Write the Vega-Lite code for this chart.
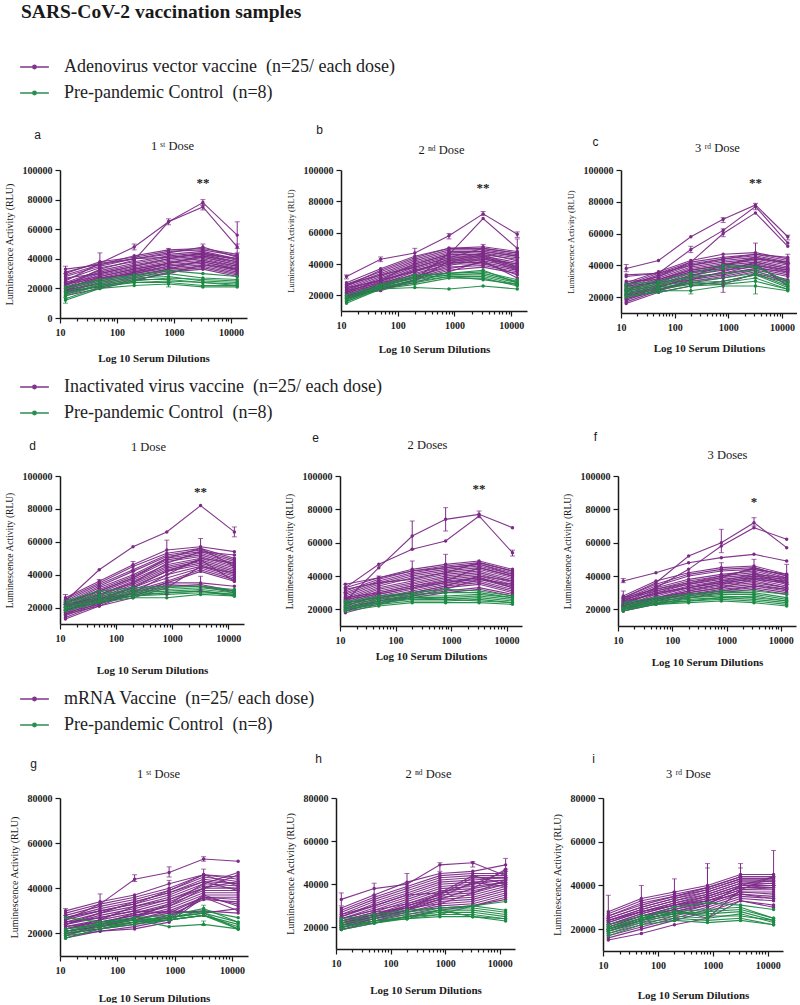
{
"$schema":"https://vega.github.io/schema/vega-lite/v6.json",
"padding":{"left":3,"top":2,"right":0,"bottom":0},
"title":{"text":"SARS-CoV-2 vaccination samples","anchor":"start","font":"Liberation Serif","fontSize":19.5,"fontWeight":"bold","color":"#1a1a1a","dx":17,"offset":31},
"datasets":{
"dil":[{"k":"v1","x":12.5},{"k":"v2","x":50},{"k":"v3","x":200},{"k":"v4","x":800},{"k":"v5","x":3200},{"k":"v6","x":12800}],
"stars":[{"p":"a","x":3200,"y":91000,"t":"**"},{"p":"b","x":3200,"y":88500,"t":"**"},{"p":"c","x":3200,"y":92000,"t":"**"},{"p":"d","x":3200,"y":90000,"t":"**"},{"p":"e","x":3200,"y":92000,"t":"**"},{"p":"f","x":3200,"y":84500,"t":"*"},{"p":"g","x":3200,"y":20000,"t":""},{"p":"h","x":3200,"y":20000,"t":""},{"p":"i","x":3200,"y":20000,"t":""}],
"err":[
{"p":"a","g":"V","x":3200,"lo":76000,"hi":80000},{"p":"a","g":"V","x":3200,"lo":73000,"hi":77000},{"p":"a","g":"V","x":12800,"lo":47000,"hi":65000},{"p":"a","g":"V","x":12800,"lo":44000,"hi":50000},{"p":"a","g":"V","x":50,"lo":34000,"hi":44000},{"p":"a","g":"V","x":12.5,"lo":30000,"hi":35000},{"p":"a","g":"V","x":200,"lo":46000,"hi":50000},{"p":"a","g":"V","x":800,"lo":63000,"hi":67000},{"p":"a","g":"V","x":800,"lo":43000,"hi":47000},{"p":"a","g":"V","x":3200,"lo":46000,"hi":50000},{"p":"a","g":"C","x":12.5,"lo":10000,"hi":14000},{"p":"a","g":"C","x":800,"lo":21000,"hi":24000},
{"p":"b","g":"V","x":3200,"lo":71000,"hi":73500},{"p":"b","g":"V","x":12800,"lo":57000,"hi":60500},{"p":"b","g":"V","x":12800,"lo":44000,"hi":56000},{"p":"b","g":"V","x":800,"lo":56000,"hi":59500},{"p":"b","g":"V","x":50,"lo":41500,"hi":44500},{"p":"b","g":"V","x":200,"lo":43000,"hi":50000},{"p":"b","g":"V","x":12.5,"lo":30500,"hi":33000},{"p":"b","g":"V","x":800,"lo":36000,"hi":39000},{"p":"b","g":"V","x":3200,"lo":50000,"hi":52500},
{"p":"c","g":"V","x":12.5,"lo":36000,"hi":40500},{"p":"c","g":"V","x":3200,"lo":75000,"hi":79000},{"p":"c","g":"V","x":12800,"lo":56000,"hi":59000},{"p":"c","g":"V","x":800,"lo":67000,"hi":70000},{"p":"c","g":"V","x":800,"lo":58000,"hi":63000},{"p":"c","g":"V","x":200,"lo":48000,"hi":52000},{"p":"c","g":"V","x":3200,"lo":40000,"hi":54000},{"p":"c","g":"V","x":800,"lo":23000,"hi":34000},{"p":"c","g":"C","x":3200,"lo":22000,"hi":32000},{"p":"c","g":"C","x":200,"lo":22000,"hi":28000},{"p":"c","g":"V","x":12800,"lo":41000,"hi":47000},
{"p":"d","g":"V","x":12800,"lo":63000,"hi":69000},{"p":"d","g":"V","x":800,"lo":45000,"hi":61000},{"p":"d","g":"V","x":3200,"lo":50000,"hi":62000},{"p":"d","g":"V","x":200,"lo":42000,"hi":48000},{"p":"d","g":"V","x":50,"lo":33000,"hi":37000},{"p":"d","g":"V","x":3200,"lo":30000,"hi":39000},{"p":"d","g":"V","x":12.5,"lo":22000,"hi":28000},{"p":"d","g":"V","x":800,"lo":28000,"hi":37000},
{"p":"e","g":"V","x":200,"lo":56000,"hi":73000},{"p":"e","g":"V","x":800,"lo":67000,"hi":81000},{"p":"e","g":"V","x":3200,"lo":75000,"hi":79000},{"p":"e","g":"V","x":200,"lo":40000,"hi":49000},{"p":"e","g":"V","x":800,"lo":40000,"hi":53000},{"p":"e","g":"V","x":12800,"lo":52000,"hi":55500},{"p":"e","g":"V","x":12.5,"lo":30000,"hi":35000},{"p":"e","g":"V","x":50,"lo":37000,"hi":40000},
{"p":"f","g":"V","x":800,"lo":54000,"hi":68000},{"p":"f","g":"V","x":3200,"lo":70000,"hi":75000},{"p":"f","g":"V","x":3200,"lo":42000,"hi":50000},{"p":"f","g":"V","x":12.5,"lo":36000,"hi":38500},{"p":"f","g":"V","x":12800,"lo":35000,"hi":47000},{"p":"f","g":"V","x":12.5,"lo":22000,"hi":31000},{"p":"f","g":"V","x":800,"lo":40000,"hi":48000},
{"p":"g","g":"V","x":3200,"lo":52000,"hi":54000},{"p":"g","g":"V","x":800,"lo":45000,"hi":49500},{"p":"g","g":"V","x":200,"lo":43000,"hi":46000},{"p":"g","g":"V","x":50,"lo":32000,"hi":37500},{"p":"g","g":"V","x":3200,"lo":44000,"hi":48500},{"p":"g","g":"V","x":800,"lo":37000,"hi":43500},{"p":"g","g":"V","x":12.5,"lo":28000,"hi":31000},{"p":"g","g":"C","x":3200,"lo":29500,"hi":32500},{"p":"g","g":"C","x":3200,"lo":23500,"hi":25500},
{"p":"h","g":"V","x":12.5,"lo":30000,"hi":36000},{"p":"h","g":"V","x":50,"lo":35000,"hi":40500},{"p":"h","g":"V","x":200,"lo":38000,"hi":45000},{"p":"h","g":"V","x":800,"lo":46000,"hi":50000},{"p":"h","g":"V","x":12800,"lo":46000,"hi":52000},{"p":"h","g":"V","x":3200,"lo":48000,"hi":50500},{"p":"h","g":"V","x":12800,"lo":43000,"hi":47000},
{"p":"i","g":"V","x":12.5,"lo":25000,"hi":35500},{"p":"i","g":"V","x":50,"lo":33000,"hi":40000},{"p":"i","g":"V","x":200,"lo":37000,"hi":43000},{"p":"i","g":"V","x":800,"lo":37000,"hi":50000},{"p":"i","g":"V","x":3200,"lo":44000,"hi":50000},{"p":"i","g":"V","x":12800,"lo":40000,"hi":56000},{"p":"i","g":"V","x":800,"lo":33000,"hi":48000},{"p":"i","g":"V","x":3200,"lo":39000,"hi":48000}
],
"lines":[
{"p":"a","g":"V","s":1,"v1":25000,"v2":37000,"v3":48000,"v4":65000,"v5":78000,"v6":56000},
{"p":"a","g":"V","s":2,"v1":22000,"v2":33000,"v3":39000,"v4":65000,"v5":75000,"v6":48000},
{"p":"a","g":"V","s":3,"v1":33000,"v2":36000,"v3":40000,"v4":44000,"v5":48000,"v6":41000},
{"p":"a","g":"V","s":4,"v1":30000,"v2":38000,"v3":41000,"v4":45000,"v5":46000,"v6":42000},
{"p":"a","g":"V","s":5,"v1":28000,"v2":35000,"v3":40000,"v4":43000,"v5":45000,"v6":40000},
{"p":"a","g":"V","s":6,"v1":26000,"v2":34000,"v3":38000,"v4":42000,"v5":44000,"v6":39000},
{"p":"a","g":"V","s":7,"v1":24000,"v2":32000,"v3":37000,"v4":41000,"v5":43000,"v6":38000},
{"p":"a","g":"V","s":8,"v1":23000,"v2":31000,"v3":36000,"v4":40000,"v5":42000,"v6":37000},
{"p":"a","g":"V","s":9,"v1":22000,"v2":30000,"v3":35000,"v4":39000,"v5":41000,"v6":36000},
{"p":"a","g":"V","s":10,"v1":21000,"v2":29000,"v3":34000,"v4":38000,"v5":40000,"v6":35000},
{"p":"a","g":"V","s":11,"v1":20000,"v2":28000,"v3":33000,"v4":37000,"v5":39000,"v6":34000},
{"p":"a","g":"V","s":12,"v1":20000,"v2":27000,"v3":32000,"v4":36000,"v5":38000,"v6":33000},
{"p":"a","g":"V","s":13,"v1":19000,"v2":26000,"v3":31000,"v4":35000,"v5":37000,"v6":32000},
{"p":"a","g":"V","s":14,"v1":18000,"v2":25000,"v3":30000,"v4":34000,"v5":36000,"v6":31000},
{"p":"a","g":"V","s":15,"v1":17000,"v2":24000,"v3":29000,"v4":33000,"v5":35000,"v6":30000},
{"p":"a","g":"V","s":16,"v1":16000,"v2":22000,"v3":27000,"v4":32000,"v5":34000,"v6":29000},
{"p":"a","g":"V","s":17,"v1":15000,"v2":20000,"v3":25000,"v4":31000,"v5":33000,"v6":28000},
{"p":"a","g":"V","s":18,"v1":29000,"v2":36000,"v3":42000,"v4":46000,"v5":47000,"v6":43000},
{"p":"a","g":"V","s":19,"v1":27000,"v2":30000,"v3":35000,"v4":40000,"v5":44000,"v6":40000},
{"p":"a","g":"V","s":20,"v1":24000,"v2":28000,"v3":33000,"v4":37000,"v5":41000,"v6":36000},
{"p":"a","g":"V","s":21,"v1":21000,"v2":26000,"v3":31000,"v4":37000,"v5":42000,"v6":38000},
{"p":"a","g":"V","s":22,"v1":19000,"v2":23000,"v3":28000,"v4":33000,"v5":39000,"v6":35000},
{"p":"a","g":"V","s":23,"v1":18000,"v2":21000,"v3":26000,"v4":30000,"v5":36000,"v6":33000},
{"p":"a","g":"V","s":24,"v1":31000,"v2":37000,"v3":40000,"v4":41000,"v5":43000,"v6":40000},
{"p":"a","g":"V","s":25,"v1":23000,"v2":27000,"v3":30000,"v4":35000,"v5":38000,"v6":33000},
{"p":"a","g":"C","s":1,"v1":12000,"v2":20000,"v3":22000,"v4":23000,"v5":21000,"v6":21000},
{"p":"a","g":"C","s":2,"v1":13000,"v2":21000,"v3":24000,"v4":24000,"v5":22000,"v6":22000},
{"p":"a","g":"C","s":3,"v1":16000,"v2":23000,"v3":26000,"v4":26000,"v5":24000,"v6":23000},
{"p":"a","g":"C","s":4,"v1":18000,"v2":24000,"v3":27000,"v4":28000,"v5":25000,"v6":24000},
{"p":"a","g":"C","s":5,"v1":20000,"v2":25000,"v3":28000,"v4":30000,"v5":27000,"v6":26000},
{"p":"a","g":"C","s":6,"v1":21000,"v2":26000,"v3":29000,"v4":32000,"v5":30000,"v6":28000},
{"p":"a","g":"C","s":7,"v1":17000,"v2":22000,"v3":25000,"v4":27000,"v5":26000,"v6":25000},
{"p":"a","g":"C","s":8,"v1":15000,"v2":22000,"v3":24000,"v4":25000,"v5":24000,"v6":22000},
{"p":"b","g":"V","s":1,"v1":32000,"v2":43000,"v3":47000,"v4":58000,"v5":72000,"v6":59000},
{"p":"b","g":"V","s":2,"v1":22000,"v2":30000,"v3":40000,"v4":46000,"v5":69000,"v6":50000},
{"p":"b","g":"V","s":3,"v1":28000,"v2":37000,"v3":45000,"v4":50000,"v5":50000,"v6":47000},
{"p":"b","g":"V","s":4,"v1":27000,"v2":35000,"v3":43000,"v4":49000,"v5":49000,"v6":46000},
{"p":"b","g":"V","s":5,"v1":26000,"v2":34000,"v3":42000,"v4":48000,"v5":48000,"v6":45000},
{"p":"b","g":"V","s":6,"v1":25000,"v2":33000,"v3":41000,"v4":47000,"v5":47000,"v6":44000},
{"p":"b","g":"V","s":7,"v1":24000,"v2":32000,"v3":40000,"v4":46000,"v5":46000,"v6":43000},
{"p":"b","g":"V","s":8,"v1":23000,"v2":31000,"v3":39000,"v4":45000,"v5":45000,"v6":41000},
{"p":"b","g":"V","s":9,"v1":22000,"v2":30000,"v3":38000,"v4":44000,"v5":44000,"v6":40000},
{"p":"b","g":"V","s":10,"v1":21000,"v2":29000,"v3":37000,"v4":43000,"v5":43000,"v6":39000},
{"p":"b","g":"V","s":11,"v1":20000,"v2":28000,"v3":36000,"v4":42000,"v5":42000,"v6":38000},
{"p":"b","g":"V","s":12,"v1":19000,"v2":27000,"v3":35000,"v4":41000,"v5":41000,"v6":37000},
{"p":"b","g":"V","s":13,"v1":19000,"v2":26000,"v3":34000,"v4":40000,"v5":40000,"v6":36000},
{"p":"b","g":"V","s":14,"v1":18000,"v2":25000,"v3":32000,"v4":38000,"v5":39000,"v6":35000},
{"p":"b","g":"V","s":15,"v1":18000,"v2":24000,"v3":30000,"v4":36000,"v5":38000,"v6":34000},
{"p":"b","g":"V","s":16,"v1":21000,"v2":26000,"v3":31000,"v4":37000,"v5":41000,"v6":33000},
{"p":"b","g":"V","s":17,"v1":23000,"v2":28000,"v3":33000,"v4":40000,"v5":44000,"v6":36000},
{"p":"b","g":"V","s":18,"v1":20000,"v2":25000,"v3":29000,"v4":42000,"v5":46000,"v6":38000},
{"p":"b","g":"V","s":19,"v1":26000,"v2":36000,"v3":44000,"v4":50000,"v5":51000,"v6":48000},
{"p":"b","g":"V","s":20,"v1":24000,"v2":30000,"v3":35000,"v4":43000,"v5":47000,"v6":42000},
{"p":"b","g":"V","s":21,"v1":22000,"v2":27000,"v3":32000,"v4":39000,"v5":43000,"v6":40000},
{"p":"b","g":"V","s":22,"v1":19000,"v2":24000,"v3":28000,"v4":35000,"v5":42000,"v6":31000},
{"p":"b","g":"V","s":23,"v1":20000,"v2":23000,"v3":30000,"v4":47000,"v5":48000,"v6":45000},
{"p":"b","g":"V","s":24,"v1":27000,"v2":33000,"v3":38000,"v4":44000,"v5":50000,"v6":47000},
{"p":"b","g":"V","s":25,"v1":25000,"v2":29000,"v3":36000,"v4":41000,"v5":45000,"v6":37000},
{"p":"b","g":"C","s":1,"v1":15000,"v2":24000,"v3":25000,"v4":24000,"v5":26000,"v6":24000},
{"p":"b","g":"C","s":2,"v1":16000,"v2":25000,"v3":28000,"v4":32000,"v5":30000,"v6":27000},
{"p":"b","g":"C","s":3,"v1":17000,"v2":25000,"v3":30000,"v4":33000,"v5":33000,"v6":28000},
{"p":"b","g":"C","s":4,"v1":18000,"v2":26000,"v3":31000,"v4":33000,"v5":34000,"v6":29000},
{"p":"b","g":"C","s":5,"v1":19000,"v2":26000,"v3":32000,"v4":34000,"v5":35000,"v6":30000},
{"p":"b","g":"C","s":6,"v1":20000,"v2":27000,"v3":33000,"v4":34000,"v5":36000,"v6":28000},
{"p":"b","g":"C","s":7,"v1":17000,"v2":25000,"v3":29000,"v4":32000,"v5":32000,"v6":27000},
{"p":"b","g":"C","s":8,"v1":16000,"v2":24000,"v3":27000,"v4":31000,"v5":31000,"v6":26000},
{"p":"c","g":"V","s":1,"v1":38000,"v2":43000,"v3":58000,"v4":69000,"v5":78000,"v6":58000},
{"p":"c","g":"V","s":2,"v1":34000,"v2":35000,"v3":50000,"v4":62000,"v5":77000,"v6":54000},
{"p":"c","g":"V","s":3,"v1":28000,"v2":33000,"v3":42000,"v4":60000,"v5":73000,"v6":52000},
{"p":"c","g":"V","s":4,"v1":29000,"v2":36000,"v3":43000,"v4":47000,"v5":48000,"v6":44000},
{"p":"c","g":"V","s":5,"v1":28000,"v2":35000,"v3":42000,"v4":45000,"v5":47000,"v6":43000},
{"p":"c","g":"V","s":6,"v1":27000,"v2":34000,"v3":41000,"v4":44000,"v5":46000,"v6":42000},
{"p":"c","g":"V","s":7,"v1":26000,"v2":33000,"v3":40000,"v4":43000,"v5":45000,"v6":41000},
{"p":"c","g":"V","s":8,"v1":25000,"v2":32000,"v3":39000,"v4":42000,"v5":44000,"v6":40000},
{"p":"c","g":"V","s":9,"v1":24000,"v2":31000,"v3":38000,"v4":41000,"v5":43000,"v6":39000},
{"p":"c","g":"V","s":10,"v1":23000,"v2":30000,"v3":37000,"v4":40000,"v5":42000,"v6":38000},
{"p":"c","g":"V","s":11,"v1":22000,"v2":29000,"v3":36000,"v4":39000,"v5":41000,"v6":37000},
{"p":"c","g":"V","s":12,"v1":21000,"v2":28000,"v3":35000,"v4":38000,"v5":40000,"v6":36000},
{"p":"c","g":"V","s":13,"v1":20000,"v2":27000,"v3":34000,"v4":37000,"v5":39000,"v6":35000},
{"p":"c","g":"V","s":14,"v1":19000,"v2":26000,"v3":32000,"v4":35000,"v5":38000,"v6":34000},
{"p":"c","g":"V","s":15,"v1":18000,"v2":25000,"v3":30000,"v4":33000,"v5":37000,"v6":33000},
{"p":"c","g":"V","s":16,"v1":17000,"v2":24000,"v3":29000,"v4":32000,"v5":36000,"v6":31000},
{"p":"c","g":"V","s":17,"v1":16000,"v2":23000,"v3":27000,"v4":30000,"v5":34000,"v6":29000},
{"p":"c","g":"V","s":18,"v1":33000,"v2":35000,"v3":40000,"v4":44000,"v5":47000,"v6":45000},
{"p":"c","g":"V","s":19,"v1":30000,"v2":31000,"v3":37000,"v4":40000,"v5":44000,"v6":42000},
{"p":"c","g":"V","s":20,"v1":27000,"v2":29000,"v3":33000,"v4":35000,"v5":40000,"v6":37000},
{"p":"c","g":"V","s":21,"v1":24000,"v2":27000,"v3":31000,"v4":34000,"v5":38000,"v6":36000},
{"p":"c","g":"V","s":22,"v1":21000,"v2":25000,"v3":29000,"v4":28000,"v5":35000,"v6":30000},
{"p":"c","g":"V","s":23,"v1":19000,"v2":24000,"v3":31000,"v4":36000,"v5":42000,"v6":38000},
{"p":"c","g":"V","s":24,"v1":22000,"v2":26000,"v3":33000,"v4":40000,"v5":45000,"v6":41000},
{"p":"c","g":"V","s":25,"v1":25000,"v2":30000,"v3":36000,"v4":38000,"v5":41000,"v6":27000},
{"p":"c","g":"C","s":1,"v1":20000,"v2":24000,"v3":24000,"v4":27000,"v5":27000,"v6":24000},
{"p":"c","g":"C","s":2,"v1":22000,"v2":25000,"v3":28000,"v4":29000,"v5":32000,"v6":25000},
{"p":"c","g":"C","s":3,"v1":23000,"v2":26000,"v3":29000,"v4":30000,"v5":34000,"v6":26000},
{"p":"c","g":"C","s":4,"v1":24000,"v2":27000,"v3":30000,"v4":32000,"v5":35000,"v6":27000},
{"p":"c","g":"C","s":5,"v1":25000,"v2":28000,"v3":32000,"v4":35000,"v5":37000,"v6":28000},
{"p":"c","g":"C","s":6,"v1":26000,"v2":29000,"v3":33000,"v4":38000,"v5":40000,"v6":29000},
{"p":"c","g":"C","s":7,"v1":28000,"v2":30000,"v3":35000,"v4":40000,"v5":39000,"v6":30000},
{"p":"c","g":"C","s":8,"v1":21000,"v2":23000,"v3":27000,"v4":28000,"v5":30000,"v6":25000},
{"p":"d","g":"V","s":1,"v1":24000,"v2":43000,"v3":57000,"v4":66000,"v5":82000,"v6":66000},
{"p":"d","g":"V","s":2,"v1":26000,"v2":36000,"v3":46000,"v4":55000,"v5":57000,"v6":54000},
{"p":"d","g":"V","s":3,"v1":25000,"v2":35000,"v3":45000,"v4":53000,"v5":56000,"v6":50000},
{"p":"d","g":"V","s":4,"v1":24000,"v2":34000,"v3":43000,"v4":52000,"v5":55000,"v6":49000},
{"p":"d","g":"V","s":5,"v1":23000,"v2":33000,"v3":42000,"v4":51000,"v5":54000,"v6":48000},
{"p":"d","g":"V","s":6,"v1":22000,"v2":32000,"v3":40000,"v4":50000,"v5":53000,"v6":47000},
{"p":"d","g":"V","s":7,"v1":21000,"v2":31000,"v3":39000,"v4":49000,"v5":52000,"v6":46000},
{"p":"d","g":"V","s":8,"v1":20000,"v2":30000,"v3":38000,"v4":48000,"v5":51000,"v6":45000},
{"p":"d","g":"V","s":9,"v1":20000,"v2":29000,"v3":37000,"v4":46000,"v5":50000,"v6":44000},
{"p":"d","g":"V","s":10,"v1":19000,"v2":28000,"v3":36000,"v4":45000,"v5":49000,"v6":43000},
{"p":"d","g":"V","s":11,"v1":18000,"v2":27000,"v3":35000,"v4":44000,"v5":48000,"v6":42000},
{"p":"d","g":"V","s":12,"v1":18000,"v2":26000,"v3":34000,"v4":43000,"v5":47000,"v6":41000},
{"p":"d","g":"V","s":13,"v1":17000,"v2":25000,"v3":33000,"v4":42000,"v5":46000,"v6":40000},
{"p":"d","g":"V","s":14,"v1":16000,"v2":24000,"v3":32000,"v4":40000,"v5":45000,"v6":39000},
{"p":"d","g":"V","s":15,"v1":15000,"v2":23000,"v3":31000,"v4":38000,"v5":44000,"v6":38000},
{"p":"d","g":"V","s":16,"v1":14000,"v2":22000,"v3":30000,"v4":36000,"v5":43000,"v6":37000},
{"p":"d","g":"V","s":17,"v1":13000,"v2":21000,"v3":29000,"v4":35000,"v5":42000,"v6":36000},
{"p":"d","g":"V","s":18,"v1":22000,"v2":26000,"v3":28000,"v4":35000,"v5":35000,"v6":33000},
{"p":"d","g":"V","s":19,"v1":21000,"v2":25000,"v3":27000,"v4":33000,"v5":34000,"v6":30000},
{"p":"d","g":"V","s":20,"v1":19000,"v2":23000,"v3":27000,"v4":34000,"v5":33000,"v6":29000},
{"p":"d","g":"V","s":21,"v1":17000,"v2":22000,"v3":29000,"v4":40000,"v5":50000,"v6":47000},
{"p":"d","g":"V","s":22,"v1":20000,"v2":28000,"v3":35000,"v4":47000,"v5":54000,"v6":52000},
{"p":"d","g":"V","s":23,"v1":23000,"v2":30000,"v3":38000,"v4":50000,"v5":56000,"v6":45000},
{"p":"d","g":"V","s":24,"v1":16000,"v2":21000,"v3":26000,"v4":32000,"v5":45000,"v6":41000},
{"p":"d","g":"V","s":25,"v1":18000,"v2":25000,"v3":32000,"v4":42000,"v5":49000,"v6":36000},
{"p":"d","g":"C","s":1,"v1":18000,"v2":23000,"v3":26000,"v4":26000,"v5":28000,"v6":27000},
{"p":"d","g":"C","s":2,"v1":19000,"v2":24000,"v3":27000,"v4":28000,"v5":29000,"v6":28000},
{"p":"d","g":"C","s":3,"v1":20000,"v2":25000,"v3":28000,"v4":29000,"v5":30000,"v6":28000},
{"p":"d","g":"C","s":4,"v1":21000,"v2":26000,"v3":29000,"v4":30000,"v5":31000,"v6":29000},
{"p":"d","g":"C","s":5,"v1":22000,"v2":27000,"v3":30000,"v4":31000,"v5":32000,"v6":30000},
{"p":"d","g":"C","s":6,"v1":23000,"v2":28000,"v3":31000,"v4":32000,"v5":33000,"v6":31000},
{"p":"d","g":"C","s":7,"v1":24000,"v2":30000,"v3":32000,"v4":33000,"v5":33000,"v6":30000},
{"p":"d","g":"C","s":8,"v1":20000,"v2":24000,"v3":27000,"v4":29000,"v5":30000,"v6":27000},
{"p":"e","g":"V","s":1,"v1":25000,"v2":45000,"v3":64000,"v4":74000,"v5":77000,"v6":69000},
{"p":"e","g":"V","s":2,"v1":33000,"v2":47000,"v3":56000,"v4":61000,"v5":76000,"v6":54000},
{"p":"e","g":"V","s":3,"v1":33000,"v2":39000,"v3":44000,"v4":47000,"v5":49000,"v6":44000},
{"p":"e","g":"V","s":4,"v1":31000,"v2":38000,"v3":43000,"v4":46000,"v5":48000,"v6":43000},
{"p":"e","g":"V","s":5,"v1":30000,"v2":37000,"v3":42000,"v4":45000,"v5":47000,"v6":42000},
{"p":"e","g":"V","s":6,"v1":29000,"v2":36000,"v3":41000,"v4":44000,"v5":46000,"v6":41000},
{"p":"e","g":"V","s":7,"v1":28000,"v2":35000,"v3":40000,"v4":43000,"v5":45000,"v6":40000},
{"p":"e","g":"V","s":8,"v1":27000,"v2":34000,"v3":39000,"v4":42000,"v5":44000,"v6":39000},
{"p":"e","g":"V","s":9,"v1":26000,"v2":33000,"v3":37000,"v4":41000,"v5":43000,"v6":38000},
{"p":"e","g":"V","s":10,"v1":25000,"v2":32000,"v3":36000,"v4":40000,"v5":42000,"v6":37000},
{"p":"e","g":"V","s":11,"v1":24000,"v2":31000,"v3":35000,"v4":39000,"v5":41000,"v6":36000},
{"p":"e","g":"V","s":12,"v1":23000,"v2":30000,"v3":34000,"v4":38000,"v5":40000,"v6":35000},
{"p":"e","g":"V","s":13,"v1":22000,"v2":29000,"v3":33000,"v4":37000,"v5":39000,"v6":34000},
{"p":"e","g":"V","s":14,"v1":22000,"v2":28000,"v3":32000,"v4":36000,"v5":38000,"v6":33000},
{"p":"e","g":"V","s":15,"v1":21000,"v2":27000,"v3":31000,"v4":35000,"v5":37000,"v6":32000},
{"p":"e","g":"V","s":16,"v1":20000,"v2":26000,"v3":30000,"v4":34000,"v5":36000,"v6":31000},
{"p":"e","g":"V","s":17,"v1":19000,"v2":25000,"v3":29000,"v4":33000,"v5":35000,"v6":30000},
{"p":"e","g":"V","s":18,"v1":19000,"v2":24000,"v3":28000,"v4":31000,"v5":33000,"v6":29000},
{"p":"e","g":"V","s":19,"v1":18000,"v2":23000,"v3":27000,"v4":30000,"v5":32000,"v6":28000},
{"p":"e","g":"V","s":20,"v1":35000,"v2":39000,"v3":43000,"v4":45000,"v5":47000,"v6":41000},
{"p":"e","g":"V","s":21,"v1":32000,"v2":36000,"v3":38000,"v4":42000,"v5":48000,"v6":43000},
{"p":"e","g":"V","s":22,"v1":27000,"v2":30000,"v3":34000,"v4":37000,"v5":45000,"v6":40000},
{"p":"e","g":"V","s":23,"v1":24000,"v2":27000,"v3":30000,"v4":34000,"v5":40000,"v6":37000},
{"p":"e","g":"V","s":24,"v1":21000,"v2":25000,"v3":28000,"v4":32000,"v5":38000,"v6":35000},
{"p":"e","g":"V","s":25,"v1":26000,"v2":29000,"v3":33000,"v4":36000,"v5":39000,"v6":33000},
{"p":"e","g":"C","s":1,"v1":19000,"v2":22000,"v3":24000,"v4":24000,"v5":24000,"v6":23000},
{"p":"e","g":"C","s":2,"v1":20000,"v2":23000,"v3":25000,"v4":25000,"v5":26000,"v6":24000},
{"p":"e","g":"C","s":3,"v1":21000,"v2":24000,"v3":26000,"v4":26000,"v5":27000,"v6":25000},
{"p":"e","g":"C","s":4,"v1":22000,"v2":25000,"v3":27000,"v4":27000,"v5":28000,"v6":26000},
{"p":"e","g":"C","s":5,"v1":23000,"v2":26000,"v3":28000,"v4":28000,"v5":29000,"v6":27000},
{"p":"e","g":"C","s":6,"v1":24000,"v2":27000,"v3":29000,"v4":30000,"v5":30000,"v6":27000},
{"p":"e","g":"C","s":7,"v1":25000,"v2":28000,"v3":30000,"v4":32000,"v5":31000,"v6":28000},
{"p":"e","g":"C","s":8,"v1":20000,"v2":24000,"v3":27000,"v4":26000,"v5":25000,"v6":24000},
{"p":"f","g":"V","s":1,"v1":37000,"v2":42000,"v3":48000,"v4":51000,"v5":53000,"v6":49000},
{"p":"f","g":"V","s":2,"v1":27000,"v2":36000,"v3":52000,"v4":60000,"v5":72000,"v6":57000},
{"p":"f","g":"V","s":3,"v1":25000,"v2":33000,"v3":44000,"v4":58000,"v5":69000,"v6":62000},
{"p":"f","g":"V","s":4,"v1":28000,"v2":37000,"v3":42000,"v4":45000,"v5":46000,"v6":41000},
{"p":"f","g":"V","s":5,"v1":27000,"v2":35000,"v3":41000,"v4":44000,"v5":45000,"v6":40000},
{"p":"f","g":"V","s":6,"v1":26000,"v2":34000,"v3":40000,"v4":43000,"v5":44000,"v6":39000},
{"p":"f","g":"V","s":7,"v1":25000,"v2":33000,"v3":38000,"v4":41000,"v5":43000,"v6":38000},
{"p":"f","g":"V","s":8,"v1":24000,"v2":32000,"v3":37000,"v4":40000,"v5":42000,"v6":37000},
{"p":"f","g":"V","s":9,"v1":23000,"v2":31000,"v3":36000,"v4":39000,"v5":41000,"v6":36000},
{"p":"f","g":"V","s":10,"v1":23000,"v2":30000,"v3":35000,"v4":38000,"v5":40000,"v6":36000},
{"p":"f","g":"V","s":11,"v1":22000,"v2":29000,"v3":34000,"v4":37000,"v5":39000,"v6":35000},
{"p":"f","g":"V","s":12,"v1":22000,"v2":28000,"v3":33000,"v4":36000,"v5":38000,"v6":34000},
{"p":"f","g":"V","s":13,"v1":21000,"v2":27000,"v3":32000,"v4":35000,"v5":37000,"v6":33000},
{"p":"f","g":"V","s":14,"v1":21000,"v2":26000,"v3":31000,"v4":34000,"v5":36000,"v6":33000},
{"p":"f","g":"V","s":15,"v1":20000,"v2":25000,"v3":30000,"v4":33000,"v5":35000,"v6":32000},
{"p":"f","g":"V","s":16,"v1":20000,"v2":25000,"v3":29000,"v4":32000,"v5":34000,"v6":31000},
{"p":"f","g":"V","s":17,"v1":19000,"v2":24000,"v3":28000,"v4":31000,"v5":33000,"v6":30000},
{"p":"f","g":"V","s":18,"v1":19000,"v2":23000,"v3":27000,"v4":30000,"v5":32000,"v6":29000},
{"p":"f","g":"V","s":19,"v1":24000,"v2":30000,"v3":33000,"v4":36000,"v5":40000,"v6":38000},
{"p":"f","g":"V","s":20,"v1":22000,"v2":27000,"v3":30000,"v4":33000,"v5":38000,"v6":36000},
{"p":"f","g":"V","s":21,"v1":26000,"v2":31000,"v3":35000,"v4":39000,"v5":45000,"v6":40000},
{"p":"f","g":"V","s":22,"v1":21000,"v2":26000,"v3":29000,"v4":31000,"v5":34000,"v6":32000},
{"p":"f","g":"V","s":23,"v1":25000,"v2":29000,"v3":33000,"v4":37000,"v5":41000,"v6":39000},
{"p":"f","g":"V","s":24,"v1":23000,"v2":27000,"v3":31000,"v4":35000,"v5":39000,"v6":37000},
{"p":"f","g":"V","s":25,"v1":27000,"v2":32000,"v3":36000,"v4":40000,"v5":44000,"v6":41000},
{"p":"f","g":"C","s":1,"v1":19000,"v2":23000,"v3":24000,"v4":25000,"v5":24000,"v6":22000},
{"p":"f","g":"C","s":2,"v1":20000,"v2":24000,"v3":25000,"v4":26000,"v5":25000,"v6":23000},
{"p":"f","g":"C","s":3,"v1":21000,"v2":24000,"v3":26000,"v4":27000,"v5":26000,"v6":24000},
{"p":"f","g":"C","s":4,"v1":21000,"v2":25000,"v3":27000,"v4":28000,"v5":27000,"v6":25000},
{"p":"f","g":"C","s":5,"v1":22000,"v2":25000,"v3":27000,"v4":29000,"v5":29000,"v6":26000},
{"p":"f","g":"C","s":6,"v1":23000,"v2":26000,"v3":28000,"v4":30000,"v5":30000,"v6":27000},
{"p":"f","g":"C","s":7,"v1":24000,"v2":27000,"v3":29000,"v4":31000,"v5":31000,"v6":29000},
{"p":"f","g":"C","s":8,"v1":20000,"v2":23000,"v3":25000,"v4":27000,"v5":28000,"v6":25000},
{"p":"g","g":"V","s":1,"v1":26000,"v2":33000,"v3":44000,"v4":47000,"v5":53000,"v6":52000},
{"p":"g","g":"V","s":2,"v1":30000,"v2":34000,"v3":37000,"v4":42000,"v5":46000,"v6":45000},
{"p":"g","g":"V","s":3,"v1":29000,"v2":33000,"v3":36000,"v4":40000,"v5":46000,"v6":44000},
{"p":"g","g":"V","s":4,"v1":28000,"v2":32000,"v3":35000,"v4":39000,"v5":45000,"v6":43000},
{"p":"g","g":"V","s":5,"v1":27000,"v2":31000,"v3":34000,"v4":38000,"v5":44000,"v6":42000},
{"p":"g","g":"V","s":6,"v1":26000,"v2":30000,"v3":33000,"v4":37000,"v5":43000,"v6":42000},
{"p":"g","g":"V","s":7,"v1":25000,"v2":29000,"v3":32000,"v4":36000,"v5":42000,"v6":41000},
{"p":"g","g":"V","s":8,"v1":24000,"v2":28000,"v3":31000,"v4":35000,"v5":41000,"v6":40000},
{"p":"g","g":"V","s":9,"v1":24000,"v2":27000,"v3":30000,"v4":34000,"v5":40000,"v6":40000},
{"p":"g","g":"V","s":10,"v1":23000,"v2":26000,"v3":29000,"v4":33000,"v5":39000,"v6":39000},
{"p":"g","g":"V","s":11,"v1":22000,"v2":25000,"v3":28000,"v4":32000,"v5":38000,"v6":38000},
{"p":"g","g":"V","s":12,"v1":22000,"v2":24000,"v3":27000,"v4":31000,"v5":37000,"v6":37000},
{"p":"g","g":"V","s":13,"v1":21000,"v2":24000,"v3":26000,"v4":30000,"v5":36000,"v6":36000},
{"p":"g","g":"V","s":14,"v1":21000,"v2":23000,"v3":26000,"v4":29000,"v5":36000,"v6":35000},
{"p":"g","g":"V","s":15,"v1":20000,"v2":22000,"v3":25000,"v4":28000,"v5":35000,"v6":34000},
{"p":"g","g":"V","s":16,"v1":20000,"v2":22000,"v3":24000,"v4":27000,"v5":36000,"v6":33000},
{"p":"g","g":"V","s":17,"v1":19000,"v2":21000,"v3":23000,"v4":26000,"v5":37000,"v6":32000},
{"p":"g","g":"V","s":18,"v1":18000,"v2":21000,"v3":22000,"v4":25000,"v5":36000,"v6":30000},
{"p":"g","g":"V","s":19,"v1":23000,"v2":25000,"v3":28000,"v4":30000,"v5":29000,"v6":31000},
{"p":"g","g":"V","s":20,"v1":25000,"v2":27000,"v3":30000,"v4":29000,"v5":30000,"v6":29000},
{"p":"g","g":"V","s":21,"v1":22000,"v2":26000,"v3":32000,"v4":35000,"v5":40000,"v6":46000},
{"p":"g","g":"V","s":22,"v1":27000,"v2":30000,"v3":33000,"v4":39000,"v5":46000,"v6":41000},
{"p":"g","g":"V","s":23,"v1":21000,"v2":23000,"v3":27000,"v4":33000,"v5":42000,"v6":47000},
{"p":"g","g":"V","s":24,"v1":24000,"v2":29000,"v3":34000,"v4":38000,"v5":43000,"v6":39000},
{"p":"g","g":"V","s":25,"v1":19000,"v2":24000,"v3":29000,"v4":32000,"v5":40000,"v6":43000},
{"p":"g","g":"C","s":1,"v1":27000,"v2":25000,"v3":26000,"v4":23000,"v5":24000,"v6":22000},
{"p":"g","g":"C","s":2,"v1":18000,"v2":22000,"v3":24000,"v4":26000,"v5":28000,"v6":23000},
{"p":"g","g":"C","s":3,"v1":19000,"v2":23000,"v3":25000,"v4":26000,"v5":28000,"v6":24000},
{"p":"g","g":"C","s":4,"v1":20000,"v2":23000,"v3":25000,"v4":27000,"v5":29000,"v6":25000},
{"p":"g","g":"C","s":5,"v1":21000,"v2":24000,"v3":26000,"v4":27000,"v5":30000,"v6":27000},
{"p":"g","g":"C","s":6,"v1":22000,"v2":24000,"v3":26000,"v4":27000,"v5":29000,"v6":22000},
{"p":"g","g":"C","s":7,"v1":18000,"v2":22000,"v3":25000,"v4":26000,"v5":28000,"v6":22000},
{"p":"g","g":"C","s":8,"v1":20000,"v2":25000,"v3":27000,"v4":28000,"v5":31000,"v6":25000},
{"p":"h","g":"V","s":1,"v1":33000,"v2":38000,"v3":40000,"v4":49000,"v5":50000,"v6":44000},
{"p":"h","g":"V","s":2,"v1":29000,"v2":35000,"v3":41000,"v4":45000,"v5":46000,"v6":49000},
{"p":"h","g":"V","s":3,"v1":28000,"v2":34000,"v3":39000,"v4":44000,"v5":45000,"v6":45000},
{"p":"h","g":"V","s":4,"v1":27000,"v2":33000,"v3":38000,"v4":43000,"v5":44000,"v6":44000},
{"p":"h","g":"V","s":5,"v1":26000,"v2":32000,"v3":37000,"v4":42000,"v5":43000,"v6":43000},
{"p":"h","g":"V","s":6,"v1":25000,"v2":31000,"v3":36000,"v4":41000,"v5":42000,"v6":43000},
{"p":"h","g":"V","s":7,"v1":25000,"v2":30000,"v3":35000,"v4":40000,"v5":41000,"v6":42000},
{"p":"h","g":"V","s":8,"v1":24000,"v2":29000,"v3":34000,"v4":39000,"v5":40000,"v6":42000},
{"p":"h","g":"V","s":9,"v1":24000,"v2":28000,"v3":33000,"v4":38000,"v5":39000,"v6":41000},
{"p":"h","g":"V","s":10,"v1":23000,"v2":27000,"v3":32000,"v4":37000,"v5":38000,"v6":41000},
{"p":"h","g":"V","s":11,"v1":23000,"v2":26000,"v3":31000,"v4":36000,"v5":37000,"v6":40000},
{"p":"h","g":"V","s":12,"v1":22000,"v2":26000,"v3":30000,"v4":35000,"v5":36000,"v6":40000},
{"p":"h","g":"V","s":13,"v1":22000,"v2":25000,"v3":29000,"v4":34000,"v5":35000,"v6":39000},
{"p":"h","g":"V","s":14,"v1":21000,"v2":25000,"v3":28000,"v4":33000,"v5":34000,"v6":38000},
{"p":"h","g":"V","s":15,"v1":21000,"v2":24000,"v3":28000,"v4":32000,"v5":33000,"v6":37000},
{"p":"h","g":"V","s":16,"v1":20000,"v2":24000,"v3":27000,"v4":31000,"v5":32000,"v6":36000},
{"p":"h","g":"V","s":17,"v1":20000,"v2":23000,"v3":27000,"v4":30000,"v5":31000,"v6":35000},
{"p":"h","g":"V","s":18,"v1":19000,"v2":23000,"v3":26000,"v4":29000,"v5":30000,"v6":34000},
{"p":"h","g":"V","s":19,"v1":19000,"v2":22000,"v3":25000,"v4":28000,"v5":30000,"v6":33000},
{"p":"h","g":"V","s":20,"v1":26000,"v2":30000,"v3":35000,"v4":36000,"v5":40000,"v6":46000},
{"p":"h","g":"V","s":21,"v1":24000,"v2":28000,"v3":31000,"v4":35000,"v5":43000,"v6":43000},
{"p":"h","g":"V","s":22,"v1":22000,"v2":26000,"v3":29000,"v4":33000,"v5":38000,"v6":47000},
{"p":"h","g":"V","s":23,"v1":21000,"v2":25000,"v3":30000,"v4":34000,"v5":41000,"v6":39000},
{"p":"h","g":"V","s":24,"v1":23000,"v2":27000,"v3":29000,"v4":31000,"v5":36000,"v6":42000},
{"p":"h","g":"V","s":25,"v1":20000,"v2":24000,"v3":28000,"v4":36000,"v5":44000,"v6":40000},
{"p":"h","g":"C","s":1,"v1":19000,"v2":22000,"v3":24000,"v4":25000,"v5":25000,"v6":23000},
{"p":"h","g":"C","s":2,"v1":20000,"v2":23000,"v3":24000,"v4":26000,"v5":26000,"v6":24000},
{"p":"h","g":"C","s":3,"v1":21000,"v2":23000,"v3":25000,"v4":27000,"v5":27000,"v6":25000},
{"p":"h","g":"C","s":4,"v1":22000,"v2":24000,"v3":26000,"v4":28000,"v5":28000,"v6":26000},
{"p":"h","g":"C","s":5,"v1":23000,"v2":25000,"v3":27000,"v4":29000,"v5":29000,"v6":27000},
{"p":"h","g":"C","s":6,"v1":24000,"v2":26000,"v3":28000,"v4":29000,"v5":30000,"v6":28000},
{"p":"h","g":"C","s":7,"v1":21000,"v2":22000,"v3":25000,"v4":26000,"v5":30000,"v6":32000},
{"p":"h","g":"C","s":8,"v1":20000,"v2":23000,"v3":24000,"v4":28000,"v5":25000,"v6":24000},
{"p":"i","g":"V","s":1,"v1":28000,"v2":34000,"v3":37000,"v4":40000,"v5":45000,"v6":45000},
{"p":"i","g":"V","s":2,"v1":27000,"v2":33000,"v3":36000,"v4":39000,"v5":44000,"v6":44000},
{"p":"i","g":"V","s":3,"v1":26000,"v2":32000,"v3":35000,"v4":39000,"v5":44000,"v6":44000},
{"p":"i","g":"V","s":4,"v1":26000,"v2":31000,"v3":35000,"v4":38000,"v5":43000,"v6":43000},
{"p":"i","g":"V","s":5,"v1":25000,"v2":30000,"v3":34000,"v4":38000,"v5":43000,"v6":43000},
{"p":"i","g":"V","s":6,"v1":25000,"v2":30000,"v3":34000,"v4":37000,"v5":42000,"v6":42000},
{"p":"i","g":"V","s":7,"v1":24000,"v2":29000,"v3":33000,"v4":37000,"v5":42000,"v6":42000},
{"p":"i","g":"V","s":8,"v1":24000,"v2":29000,"v3":33000,"v4":36000,"v5":41000,"v6":42000},
{"p":"i","g":"V","s":9,"v1":23000,"v2":28000,"v3":32000,"v4":36000,"v5":41000,"v6":41000},
{"p":"i","g":"V","s":10,"v1":23000,"v2":28000,"v3":32000,"v4":35000,"v5":40000,"v6":41000},
{"p":"i","g":"V","s":11,"v1":22000,"v2":27000,"v3":31000,"v4":35000,"v5":40000,"v6":40000},
{"p":"i","g":"V","s":12,"v1":22000,"v2":27000,"v3":31000,"v4":34000,"v5":39000,"v6":40000},
{"p":"i","g":"V","s":13,"v1":21000,"v2":26000,"v3":30000,"v4":34000,"v5":39000,"v6":39000},
{"p":"i","g":"V","s":14,"v1":21000,"v2":26000,"v3":30000,"v4":33000,"v5":38000,"v6":39000},
{"p":"i","g":"V","s":15,"v1":20000,"v2":25000,"v3":29000,"v4":33000,"v5":38000,"v6":38000},
{"p":"i","g":"V","s":16,"v1":20000,"v2":25000,"v3":29000,"v4":32000,"v5":37000,"v6":37000},
{"p":"i","g":"V","s":17,"v1":19000,"v2":24000,"v3":28000,"v4":32000,"v5":37000,"v6":36000},
{"p":"i","g":"V","s":18,"v1":19000,"v2":23000,"v3":27000,"v4":31000,"v5":36000,"v6":35000},
{"p":"i","g":"V","s":19,"v1":18000,"v2":22000,"v3":26000,"v4":30000,"v5":35000,"v6":34000},
{"p":"i","g":"V","s":20,"v1":17000,"v2":21000,"v3":25000,"v4":29000,"v5":34000,"v6":33000},
{"p":"i","g":"V","s":21,"v1":16000,"v2":20000,"v3":24000,"v4":28000,"v5":33000,"v6":31000},
{"p":"i","g":"V","s":22,"v1":15000,"v2":18000,"v3":22000,"v4":25000,"v5":33000,"v6":30000},
{"p":"i","g":"V","s":23,"v1":22000,"v2":26000,"v3":29000,"v4":25000,"v5":38000,"v6":44000},
{"p":"i","g":"V","s":24,"v1":24000,"v2":28000,"v3":31000,"v4":33000,"v5":36000,"v6":34000},
{"p":"i","g":"V","s":25,"v1":20000,"v2":24000,"v3":28000,"v4":31000,"v5":40000,"v6":44000},
{"p":"i","g":"C","s":1,"v1":17000,"v2":22000,"v3":24000,"v4":23000,"v5":24000,"v6":22000},
{"p":"i","g":"C","s":2,"v1":18000,"v2":23000,"v3":25000,"v4":24000,"v5":25000,"v6":22000},
{"p":"i","g":"C","s":3,"v1":19000,"v2":24000,"v3":26000,"v4":25000,"v5":27000,"v6":23000},
{"p":"i","g":"C","s":4,"v1":20000,"v2":25000,"v3":27000,"v4":27000,"v5":28000,"v6":24000},
{"p":"i","g":"C","s":5,"v1":21000,"v2":25000,"v3":27000,"v4":28000,"v5":29000,"v6":25000},
{"p":"i","g":"C","s":6,"v1":22000,"v2":26000,"v3":28000,"v4":29000,"v5":30000,"v6":25000},
{"p":"i","g":"C","s":7,"v1":20000,"v2":25000,"v3":30000,"v4":32000,"v5":31000,"v6":29000},
{"p":"i","g":"C","s":8,"v1":19000,"v2":24000,"v3":28000,"v4":26000,"v5":26000,"v6":24000}
]
},
"bounds":"flush",
"spacing":306,
"resolve":{"scale":{"color":"independent"}},
"vconcat":[
{"hconcat":[
{"width":187,"height":148,"resolve":{"axis":{"x":"independent","y":"independent"}},"layer":[
{"data":{"name":"lines"},"transform":[{"filter":"datum.p==='a'"},{"fold":["v1","v2","v3","v4","v5","v6"],"as":["k","y"]},{"lookup":"k","from":{"data":{"name":"dil"},"key":"k","fields":["x"]}}],
"mark":{"type":"line","strokeWidth":1.1,"opacity":0.95},
"encoding":{"x":{"field":"x","type":"quantitative","scale":{"type":"log","domain":[10,19000],"nice":false},"axis":{"orient":"bottom","values":[10,100,1000,10000],"format":"d","labelOverlap":false,"tickSize":5,"labelPadding":4,"title":"Log 10 Serum Dilutions","titleFontWeight":"bold","titleFontSize":11,"titlePadding":15}},
"y":{"field":"y","type":"quantitative","scale":{"domain":[0,100000],"nice":false,"zero":false},"axis":{"orient":"left","values":[0,20000,40000,60000,80000,100000],"format":"d","labelOverlap":false,"tickSize":5,"labelPadding":3,"title":"Luminescence Activity (RLU)","titleFontSize":10,"titlePadding":8}},
"color":{"field":"g","type":"nominal","scale":{"domain":["V","C"],"range":["#7b2b86","#1e8a46"]},"legend":{"orient":"none","legendX":-39,"legendY":-116.5,"title":null,"labelExpr":"datum.value==='V' ? 'Adenovirus vector vaccine\u00a0 (n=25/ each dose)' : 'Pre-pandemic Control\u00a0 (n=8)'"}},
"detail":{"field":"s","type":"nominal"}}},
{"data":{"name":"lines"},"transform":[{"filter":"datum.p==='a'"},{"fold":["v1","v2","v3","v4","v5","v6"],"as":["k","y"]},{"lookup":"k","from":{"data":{"name":"dil"},"key":"k","fields":["x"]}}],
"mark":{"type":"point","filled":true,"size":12,"opacity":1},
"encoding":{"x":{"field":"x","type":"quantitative","scale":{"type":"log","domain":[10,19000],"nice":false},"axis":{"orient":"bottom","values":[20,30,40,50,60,70,80,90,200,300,400,500,600,700,800,900,2000,3000,4000,5000,6000,7000,8000,9000],"labels":false,"domain":false,"tickSize":3,"title":null}},
"y":{"field":"y","type":"quantitative","scale":{"domain":[0,100000],"nice":false,"zero":false},"axis":null},
"color":{"field":"g","type":"nominal","scale":{"domain":["V","C"],"range":["#7b2b86","#1e8a46"]},"legend":null}}},
{"data":{"name":"err"},"transform":[{"filter":"datum.p==='a'"}],"mark":{"type":"errorbar","ticks":{"size":5},"thickness":1},
"encoding":{"x":{"field":"x","type":"quantitative","scale":{"type":"log","domain":[10,19000],"nice":false},"axis":null},"y":{"field":"lo","type":"quantitative","scale":{"domain":[0,100000],"nice":false,"zero":false},"axis":null},"y2":{"field":"hi"},"color":{"field":"g","type":"nominal","scale":{"domain":["V","C"],"range":["#7b2b86","#1e8a46"]},"legend":null}}},
{"data":{"name":"stars"},"transform":[{"filter":"datum.p==='a'"}],"mark":{"type":"text","font":"Liberation Serif","fontSize":13,"fontWeight":"bold","baseline":"middle","color":"#222"},
"encoding":{"x":{"field":"x","type":"quantitative","scale":{"type":"log","domain":[10,19000],"nice":false},"axis":{"orient":"top","domain":false,"ticks":false,"labels":false,"title":"1 ˢᵗ Dose","titleFont":"Liberation Serif","titleFontSize":12.5,"titleFontWeight":"normal","titleX":112,"titleY":-25,"titleAlign":"center","titleBaseline":"middle"}},"y":{"field":"y","type":"quantitative","scale":{"domain":[0,100000],"nice":false,"zero":false},"axis":null},"text":{"field":"t"}}},
{"data":{"name":"stars"},"transform":[{"filter":"datum.p==='a'"}],"mark":{"type":"point","opacity":0},
"encoding":{"x":{"field":"x","type":"quantitative","scale":{"type":"log","domain":[10,19000],"nice":false},"axis":{"orient":"top","domain":false,"ticks":false,"labels":false,"title":"a","titleFont":"Liberation Sans","titleFontSize":12,"titleFontWeight":"normal","titleX":-23,"titleY":-36,"titleAlign":"center","titleBaseline":"middle"}},"y":{"field":"y","type":"quantitative","scale":{"domain":[0,100000],"nice":false,"zero":false},"axis":null}}}
]},
{"width":186,"height":141,"resolve":{"axis":{"x":"independent","y":"independent"}},"layer":[
{"data":{"name":"lines"},"transform":[{"filter":"datum.p==='b'"},{"fold":["v1","v2","v3","v4","v5","v6"],"as":["k","y"]},{"lookup":"k","from":{"data":{"name":"dil"},"key":"k","fields":["x"]}}],
"mark":{"type":"line","strokeWidth":1.1,"opacity":0.95},
"encoding":{"x":{"field":"x","type":"quantitative","scale":{"type":"log","domain":[10,19000],"nice":false},"axis":{"orient":"bottom","values":[10,100,1000,10000],"format":"d","labelOverlap":false,"tickSize":5,"labelPadding":4,"title":"Log 10 Serum Dilutions","titleFontWeight":"bold","titleFontSize":11,"titlePadding":13}},
"y":{"field":"y","type":"quantitative","scale":{"domain":[10000,100000],"nice":false,"zero":false},"axis":{"orient":"left","values":[20000,40000,60000,80000,100000],"format":"d","labelOverlap":false,"tickSize":5,"labelPadding":3,"title":"Luminescence Activity (RLU)","titleFontSize":8.5,"titlePadding":8}},
"color":{"field":"g","type":"nominal","scale":{"domain":["V","C"],"range":["#7b2b86","#1e8a46"]},"legend":null},
"detail":{"field":"s","type":"nominal"}}},
{"data":{"name":"lines"},"transform":[{"filter":"datum.p==='b'"},{"fold":["v1","v2","v3","v4","v5","v6"],"as":["k","y"]},{"lookup":"k","from":{"data":{"name":"dil"},"key":"k","fields":["x"]}}],
"mark":{"type":"point","filled":true,"size":12,"opacity":1},
"encoding":{"x":{"field":"x","type":"quantitative","scale":{"type":"log","domain":[10,19000],"nice":false},"axis":{"orient":"bottom","values":[20,30,40,50,60,70,80,90,200,300,400,500,600,700,800,900,2000,3000,4000,5000,6000,7000,8000,9000],"labels":false,"domain":false,"tickSize":3,"title":null}},
"y":{"field":"y","type":"quantitative","scale":{"domain":[10000,100000],"nice":false,"zero":false},"axis":null},
"color":{"field":"g","type":"nominal","scale":{"domain":["V","C"],"range":["#7b2b86","#1e8a46"]},"legend":null}}},
{"data":{"name":"err"},"transform":[{"filter":"datum.p==='b'"}],"mark":{"type":"errorbar","ticks":{"size":5},"thickness":1},
"encoding":{"x":{"field":"x","type":"quantitative","scale":{"type":"log","domain":[10,19000],"nice":false},"axis":null},"y":{"field":"lo","type":"quantitative","scale":{"domain":[10000,100000],"nice":false,"zero":false},"axis":null},"y2":{"field":"hi"},"color":{"field":"g","type":"nominal","scale":{"domain":["V","C"],"range":["#7b2b86","#1e8a46"]},"legend":null}}},
{"data":{"name":"stars"},"transform":[{"filter":"datum.p==='b'"}],"mark":{"type":"text","font":"Liberation Serif","fontSize":13,"fontWeight":"bold","baseline":"middle","color":"#222"},
"encoding":{"x":{"field":"x","type":"quantitative","scale":{"type":"log","domain":[10,19000],"nice":false},"axis":{"orient":"top","domain":false,"ticks":false,"labels":false,"title":"2 ⁿᵈ Dose","titleFont":"Liberation Serif","titleFontSize":12.5,"titleFontWeight":"normal","titleX":100,"titleY":-21,"titleAlign":"center","titleBaseline":"middle"}},"y":{"field":"y","type":"quantitative","scale":{"domain":[10000,100000],"nice":false,"zero":false},"axis":null},"text":{"field":"t"}}},
{"data":{"name":"stars"},"transform":[{"filter":"datum.p==='b'"}],"mark":{"type":"point","opacity":0},
"encoding":{"x":{"field":"x","type":"quantitative","scale":{"type":"log","domain":[10,19000],"nice":false},"axis":{"orient":"top","domain":false,"ticks":false,"labels":false,"title":"b","titleFont":"Liberation Sans","titleFontSize":12,"titleFontWeight":"normal","titleX":-22,"titleY":-41,"titleAlign":"center","titleBaseline":"middle"}},"y":{"field":"y","type":"quantitative","scale":{"domain":[10000,100000],"nice":false,"zero":false},"axis":null}}}
]},
{"width":176,"height":143,"resolve":{"axis":{"x":"independent","y":"independent"}},"layer":[
{"data":{"name":"lines"},"transform":[{"filter":"datum.p==='c'"},{"fold":["v1","v2","v3","v4","v5","v6"],"as":["k","y"]},{"lookup":"k","from":{"data":{"name":"dil"},"key":"k","fields":["x"]}}],
"mark":{"type":"line","strokeWidth":1.1,"opacity":0.95},
"encoding":{"x":{"field":"x","type":"quantitative","scale":{"type":"log","domain":[10,19000],"nice":false},"axis":{"orient":"bottom","values":[10,100,1000,10000],"format":"d","labelOverlap":false,"tickSize":5,"labelPadding":4,"title":"Log 10 Serum Dilutions","titleFontWeight":"bold","titleFontSize":11,"titlePadding":10}},
"y":{"field":"y","type":"quantitative","scale":{"domain":[10000,100000],"nice":false,"zero":false},"axis":{"orient":"left","values":[20000,40000,60000,80000,100000],"format":"d","labelOverlap":false,"tickSize":5,"labelPadding":3,"title":"Luminescence Activity (RLU)","titleFontSize":8.5,"titlePadding":8}},
"color":{"field":"g","type":"nominal","scale":{"domain":["V","C"],"range":["#7b2b86","#1e8a46"]},"legend":null},
"detail":{"field":"s","type":"nominal"}}},
{"data":{"name":"lines"},"transform":[{"filter":"datum.p==='c'"},{"fold":["v1","v2","v3","v4","v5","v6"],"as":["k","y"]},{"lookup":"k","from":{"data":{"name":"dil"},"key":"k","fields":["x"]}}],
"mark":{"type":"point","filled":true,"size":12,"opacity":1},
"encoding":{"x":{"field":"x","type":"quantitative","scale":{"type":"log","domain":[10,19000],"nice":false},"axis":{"orient":"bottom","values":[20,30,40,50,60,70,80,90,200,300,400,500,600,700,800,900,2000,3000,4000,5000,6000,7000,8000,9000],"labels":false,"domain":false,"tickSize":3,"title":null}},
"y":{"field":"y","type":"quantitative","scale":{"domain":[10000,100000],"nice":false,"zero":false},"axis":null},
"color":{"field":"g","type":"nominal","scale":{"domain":["V","C"],"range":["#7b2b86","#1e8a46"]},"legend":null}}},
{"data":{"name":"err"},"transform":[{"filter":"datum.p==='c'"}],"mark":{"type":"errorbar","ticks":{"size":5},"thickness":1},
"encoding":{"x":{"field":"x","type":"quantitative","scale":{"type":"log","domain":[10,19000],"nice":false},"axis":null},"y":{"field":"lo","type":"quantitative","scale":{"domain":[10000,100000],"nice":false,"zero":false},"axis":null},"y2":{"field":"hi"},"color":{"field":"g","type":"nominal","scale":{"domain":["V","C"],"range":["#7b2b86","#1e8a46"]},"legend":null}}},
{"data":{"name":"stars"},"transform":[{"filter":"datum.p==='c'"}],"mark":{"type":"text","font":"Liberation Serif","fontSize":13,"fontWeight":"bold","baseline":"middle","color":"#222"},
"encoding":{"x":{"field":"x","type":"quantitative","scale":{"type":"log","domain":[10,19000],"nice":false},"axis":{"orient":"top","domain":false,"ticks":false,"labels":false,"title":"3 ʳᵈ Dose","titleFont":"Liberation Serif","titleFontSize":12.5,"titleFontWeight":"normal","titleX":96,"titleY":-23,"titleAlign":"center","titleBaseline":"middle"}},"y":{"field":"y","type":"quantitative","scale":{"domain":[10000,100000],"nice":false,"zero":false},"axis":null},"text":{"field":"t"}}},
{"data":{"name":"stars"},"transform":[{"filter":"datum.p==='c'"}],"mark":{"type":"point","opacity":0},
"encoding":{"x":{"field":"x","type":"quantitative","scale":{"type":"log","domain":[10,19000],"nice":false},"axis":{"orient":"top","domain":false,"ticks":false,"labels":false,"title":"c","titleFont":"Liberation Sans","titleFontSize":12,"titleFontWeight":"normal","titleX":-26,"titleY":-29,"titleAlign":"center","titleBaseline":"middle"}},"y":{"field":"y","type":"quantitative","scale":{"domain":[10000,100000],"nice":false,"zero":false},"axis":null}}}
]}
],"spacing":94,"bounds":"flush","resolve":{"scale":{"color":"independent"}}},
{"vconcat":[
{"hconcat":[
{"width":184,"height":148,"resolve":{"axis":{"x":"independent","y":"independent"}},"layer":[
{"data":{"name":"lines"},"transform":[{"filter":"datum.p==='d'"},{"fold":["v1","v2","v3","v4","v5","v6"],"as":["k","y"]},{"lookup":"k","from":{"data":{"name":"dil"},"key":"k","fields":["x"]}}],
"mark":{"type":"line","strokeWidth":1.1,"opacity":0.95},
"encoding":{"x":{"field":"x","type":"quantitative","scale":{"type":"log","domain":[10,19000],"nice":false},"axis":{"orient":"bottom","values":[10,100,1000,10000],"format":"d","labelOverlap":false,"tickSize":5,"labelPadding":4,"title":"Log 10 Serum Dilutions","titleFontWeight":"bold","titleFontSize":11,"titlePadding":21}},
"y":{"field":"y","type":"quantitative","scale":{"domain":[10000,100000],"nice":false,"zero":false},"axis":{"orient":"left","values":[20000,40000,60000,80000,100000],"format":"d","labelOverlap":false,"tickSize":5,"labelPadding":3,"title":"Luminescence Activity (RLU)","titleFontSize":9.5,"titlePadding":8}},
"color":{"field":"g","type":"nominal","scale":{"domain":["V","C"],"range":["#7b2b86","#1e8a46"]},"legend":{"orient":"none","legendX":-39,"legendY":-102.5,"title":null,"labelExpr":"datum.value==='V' ? 'Inactivated virus vaccine\u00a0 (n=25/ each dose)' : 'Pre-pandemic Control\u00a0 (n=8)'"}},
"detail":{"field":"s","type":"nominal"}}},
{"data":{"name":"lines"},"transform":[{"filter":"datum.p==='d'"},{"fold":["v1","v2","v3","v4","v5","v6"],"as":["k","y"]},{"lookup":"k","from":{"data":{"name":"dil"},"key":"k","fields":["x"]}}],
"mark":{"type":"point","filled":true,"size":12,"opacity":1},
"encoding":{"x":{"field":"x","type":"quantitative","scale":{"type":"log","domain":[10,19000],"nice":false},"axis":{"orient":"bottom","values":[20,30,40,50,60,70,80,90,200,300,400,500,600,700,800,900,2000,3000,4000,5000,6000,7000,8000,9000],"labels":false,"domain":false,"tickSize":3,"title":null}},
"y":{"field":"y","type":"quantitative","scale":{"domain":[10000,100000],"nice":false,"zero":false},"axis":null},
"color":{"field":"g","type":"nominal","scale":{"domain":["V","C"],"range":["#7b2b86","#1e8a46"]},"legend":null}}},
{"data":{"name":"err"},"transform":[{"filter":"datum.p==='d'"}],"mark":{"type":"errorbar","ticks":{"size":5},"thickness":1},
"encoding":{"x":{"field":"x","type":"quantitative","scale":{"type":"log","domain":[10,19000],"nice":false},"axis":null},"y":{"field":"lo","type":"quantitative","scale":{"domain":[10000,100000],"nice":false,"zero":false},"axis":null},"y2":{"field":"hi"},"color":{"field":"g","type":"nominal","scale":{"domain":["V","C"],"range":["#7b2b86","#1e8a46"]},"legend":null}}},
{"data":{"name":"stars"},"transform":[{"filter":"datum.p==='d'"}],"mark":{"type":"text","font":"Liberation Serif","fontSize":13,"fontWeight":"bold","baseline":"middle","color":"#222"},
"encoding":{"x":{"field":"x","type":"quantitative","scale":{"type":"log","domain":[10,19000],"nice":false},"axis":{"orient":"top","domain":false,"ticks":false,"labels":false,"title":"1 Dose","titleFont":"Liberation Serif","titleFontSize":12.5,"titleFontWeight":"normal","titleX":88,"titleY":-30,"titleAlign":"center","titleBaseline":"middle"}},"y":{"field":"y","type":"quantitative","scale":{"domain":[10000,100000],"nice":false,"zero":false},"axis":null},"text":{"field":"t"}}},
{"data":{"name":"stars"},"transform":[{"filter":"datum.p==='d'"}],"mark":{"type":"point","opacity":0},
"encoding":{"x":{"field":"x","type":"quantitative","scale":{"type":"log","domain":[10,19000],"nice":false},"axis":{"orient":"top","domain":false,"ticks":false,"labels":false,"title":"d","titleFont":"Liberation Sans","titleFontSize":12,"titleFontWeight":"normal","titleX":-28,"titleY":-31,"titleAlign":"center","titleBaseline":"middle"}},"y":{"field":"y","type":"quantitative","scale":{"domain":[10000,100000],"nice":false,"zero":false},"axis":null}}}
]},
{"width":182,"height":150,"resolve":{"axis":{"x":"independent","y":"independent"}},"layer":[
{"data":{"name":"lines"},"transform":[{"filter":"datum.p==='e'"},{"fold":["v1","v2","v3","v4","v5","v6"],"as":["k","y"]},{"lookup":"k","from":{"data":{"name":"dil"},"key":"k","fields":["x"]}}],
"mark":{"type":"line","strokeWidth":1.1,"opacity":0.95},
"encoding":{"x":{"field":"x","type":"quantitative","scale":{"type":"log","domain":[10,19000],"nice":false},"axis":{"orient":"bottom","values":[10,100,1000,10000],"format":"d","labelOverlap":false,"tickSize":5,"labelPadding":4,"title":"Log 10 Serum Dilutions","titleFontWeight":"bold","titleFontSize":11,"titlePadding":5}},
"y":{"field":"y","type":"quantitative","scale":{"domain":[10000,100000],"nice":false,"zero":false},"axis":{"orient":"left","values":[20000,40000,60000,80000,100000],"format":"d","labelOverlap":false,"tickSize":5,"labelPadding":3,"title":"Luminescence Activity (RLU)","titleFontSize":9.5,"titlePadding":8}},
"color":{"field":"g","type":"nominal","scale":{"domain":["V","C"],"range":["#7b2b86","#1e8a46"]},"legend":null},
"detail":{"field":"s","type":"nominal"}}},
{"data":{"name":"lines"},"transform":[{"filter":"datum.p==='e'"},{"fold":["v1","v2","v3","v4","v5","v6"],"as":["k","y"]},{"lookup":"k","from":{"data":{"name":"dil"},"key":"k","fields":["x"]}}],
"mark":{"type":"point","filled":true,"size":12,"opacity":1},
"encoding":{"x":{"field":"x","type":"quantitative","scale":{"type":"log","domain":[10,19000],"nice":false},"axis":{"orient":"bottom","values":[20,30,40,50,60,70,80,90,200,300,400,500,600,700,800,900,2000,3000,4000,5000,6000,7000,8000,9000],"labels":false,"domain":false,"tickSize":3,"title":null}},
"y":{"field":"y","type":"quantitative","scale":{"domain":[10000,100000],"nice":false,"zero":false},"axis":null},
"color":{"field":"g","type":"nominal","scale":{"domain":["V","C"],"range":["#7b2b86","#1e8a46"]},"legend":null}}},
{"data":{"name":"err"},"transform":[{"filter":"datum.p==='e'"}],"mark":{"type":"errorbar","ticks":{"size":5},"thickness":1},
"encoding":{"x":{"field":"x","type":"quantitative","scale":{"type":"log","domain":[10,19000],"nice":false},"axis":null},"y":{"field":"lo","type":"quantitative","scale":{"domain":[10000,100000],"nice":false,"zero":false},"axis":null},"y2":{"field":"hi"},"color":{"field":"g","type":"nominal","scale":{"domain":["V","C"],"range":["#7b2b86","#1e8a46"]},"legend":null}}},
{"data":{"name":"stars"},"transform":[{"filter":"datum.p==='e'"}],"mark":{"type":"text","font":"Liberation Serif","fontSize":13,"fontWeight":"bold","baseline":"middle","color":"#222"},
"encoding":{"x":{"field":"x","type":"quantitative","scale":{"type":"log","domain":[10,19000],"nice":false},"axis":{"orient":"top","domain":false,"ticks":false,"labels":false,"title":"2 Doses","titleFont":"Liberation Serif","titleFontSize":12.5,"titleFontWeight":"normal","titleX":87,"titleY":-32,"titleAlign":"center","titleBaseline":"middle"}},"y":{"field":"y","type":"quantitative","scale":{"domain":[10000,100000],"nice":false,"zero":false},"axis":null},"text":{"field":"t"}}},
{"data":{"name":"stars"},"transform":[{"filter":"datum.p==='e'"}],"mark":{"type":"point","opacity":0},
"encoding":{"x":{"field":"x","type":"quantitative","scale":{"type":"log","domain":[10,19000],"nice":false},"axis":{"orient":"top","domain":false,"ticks":false,"labels":false,"title":"e","titleFont":"Liberation Sans","titleFontSize":12,"titleFontWeight":"normal","titleX":-25,"titleY":-39,"titleAlign":"center","titleBaseline":"middle"}},"y":{"field":"y","type":"quantitative","scale":{"domain":[10000,100000],"nice":false,"zero":false},"axis":null}}}
]},
{"width":178,"height":150,"resolve":{"axis":{"x":"independent","y":"independent"}},"layer":[
{"data":{"name":"lines"},"transform":[{"filter":"datum.p==='f'"},{"fold":["v1","v2","v3","v4","v5","v6"],"as":["k","y"]},{"lookup":"k","from":{"data":{"name":"dil"},"key":"k","fields":["x"]}}],
"mark":{"type":"line","strokeWidth":1.1,"opacity":0.95},
"encoding":{"x":{"field":"x","type":"quantitative","scale":{"type":"log","domain":[10,19000],"nice":false},"axis":{"orient":"bottom","values":[10,100,1000,10000],"format":"d","labelOverlap":false,"tickSize":5,"labelPadding":4,"title":"Log 10 Serum Dilutions","titleFontWeight":"bold","titleFontSize":11,"titlePadding":11}},
"y":{"field":"y","type":"quantitative","scale":{"domain":[10000,100000],"nice":false,"zero":false},"axis":{"orient":"left","values":[20000,40000,60000,80000,100000],"format":"d","labelOverlap":false,"tickSize":5,"labelPadding":3,"title":"Luminescence Activity (RLU)","titleFontSize":9.5,"titlePadding":8}},
"color":{"field":"g","type":"nominal","scale":{"domain":["V","C"],"range":["#7b2b86","#1e8a46"]},"legend":null},
"detail":{"field":"s","type":"nominal"}}},
{"data":{"name":"lines"},"transform":[{"filter":"datum.p==='f'"},{"fold":["v1","v2","v3","v4","v5","v6"],"as":["k","y"]},{"lookup":"k","from":{"data":{"name":"dil"},"key":"k","fields":["x"]}}],
"mark":{"type":"point","filled":true,"size":12,"opacity":1},
"encoding":{"x":{"field":"x","type":"quantitative","scale":{"type":"log","domain":[10,19000],"nice":false},"axis":{"orient":"bottom","values":[20,30,40,50,60,70,80,90,200,300,400,500,600,700,800,900,2000,3000,4000,5000,6000,7000,8000,9000],"labels":false,"domain":false,"tickSize":3,"title":null}},
"y":{"field":"y","type":"quantitative","scale":{"domain":[10000,100000],"nice":false,"zero":false},"axis":null},
"color":{"field":"g","type":"nominal","scale":{"domain":["V","C"],"range":["#7b2b86","#1e8a46"]},"legend":null}}},
{"data":{"name":"err"},"transform":[{"filter":"datum.p==='f'"}],"mark":{"type":"errorbar","ticks":{"size":5},"thickness":1},
"encoding":{"x":{"field":"x","type":"quantitative","scale":{"type":"log","domain":[10,19000],"nice":false},"axis":null},"y":{"field":"lo","type":"quantitative","scale":{"domain":[10000,100000],"nice":false,"zero":false},"axis":null},"y2":{"field":"hi"},"color":{"field":"g","type":"nominal","scale":{"domain":["V","C"],"range":["#7b2b86","#1e8a46"]},"legend":null}}},
{"data":{"name":"stars"},"transform":[{"filter":"datum.p==='f'"}],"mark":{"type":"text","font":"Liberation Serif","fontSize":13,"fontWeight":"bold","baseline":"middle","color":"#222"},
"encoding":{"x":{"field":"x","type":"quantitative","scale":{"type":"log","domain":[10,19000],"nice":false},"axis":{"orient":"top","domain":false,"ticks":false,"labels":false,"title":"3 Doses","titleFont":"Liberation Serif","titleFontSize":12.5,"titleFontWeight":"normal","titleX":109,"titleY":-22,"titleAlign":"center","titleBaseline":"middle"}},"y":{"field":"y","type":"quantitative","scale":{"domain":[10000,100000],"nice":false,"zero":false},"axis":null},"text":{"field":"t"}}},
{"data":{"name":"stars"},"transform":[{"filter":"datum.p==='f'"}],"mark":{"type":"point","opacity":0},
"encoding":{"x":{"field":"x","type":"quantitative","scale":{"type":"log","domain":[10,19000],"nice":false},"axis":{"orient":"top","domain":false,"ticks":false,"labels":false,"title":"f","titleFont":"Liberation Sans","titleFontSize":12,"titleFontWeight":"normal","titleX":-23,"titleY":-40,"titleAlign":"center","titleBaseline":"middle"}},"y":{"field":"y","type":"quantitative","scale":{"domain":[10000,100000],"nice":false,"zero":false},"axis":null}}}
]}
],"spacing":96,"bounds":"flush","resolve":{"scale":{"color":"independent"}}},
{"hconcat":[
{"width":188,"height":158,"resolve":{"axis":{"x":"independent","y":"independent"}},"layer":[
{"data":{"name":"lines"},"transform":[{"filter":"datum.p==='g'"},{"fold":["v1","v2","v3","v4","v5","v6"],"as":["k","y"]},{"lookup":"k","from":{"data":{"name":"dil"},"key":"k","fields":["x"]}}],
"mark":{"type":"line","strokeWidth":1.1,"opacity":0.95},
"encoding":{"x":{"field":"x","type":"quantitative","scale":{"type":"log","domain":[10,19000],"nice":false},"axis":{"orient":"bottom","values":[10,100,1000,10000],"format":"d","labelOverlap":false,"tickSize":5,"labelPadding":4,"title":"Log 10 Serum Dilutions","titleFontWeight":"bold","titleFontSize":11,"titlePadding":17}},
"y":{"field":"y","type":"quantitative","scale":{"domain":[10000,80000],"nice":false,"zero":false},"axis":{"orient":"left","values":[20000,40000,60000,80000],"format":"d","labelOverlap":false,"tickSize":5,"labelPadding":3,"title":"Luminescence Activity (RLU)","titleFontSize":10,"titlePadding":8}},
"color":{"field":"g","type":"nominal","scale":{"domain":["V","C"],"range":["#7b2b86","#1e8a46"]},"legend":{"orient":"none","legendX":-39,"legendY":-112.5,"title":null,"labelExpr":"datum.value==='V' ? 'mRNA Vaccine\u00a0 (n=25/ each dose)' : 'Pre-pandemic Control\u00a0 (n=8)'"}},
"detail":{"field":"s","type":"nominal"}}},
{"data":{"name":"lines"},"transform":[{"filter":"datum.p==='g'"},{"fold":["v1","v2","v3","v4","v5","v6"],"as":["k","y"]},{"lookup":"k","from":{"data":{"name":"dil"},"key":"k","fields":["x"]}}],
"mark":{"type":"point","filled":true,"size":12,"opacity":1},
"encoding":{"x":{"field":"x","type":"quantitative","scale":{"type":"log","domain":[10,19000],"nice":false},"axis":{"orient":"bottom","values":[20,30,40,50,60,70,80,90,200,300,400,500,600,700,800,900,2000,3000,4000,5000,6000,7000,8000,9000],"labels":false,"domain":false,"tickSize":3,"title":null}},
"y":{"field":"y","type":"quantitative","scale":{"domain":[10000,80000],"nice":false,"zero":false},"axis":null},
"color":{"field":"g","type":"nominal","scale":{"domain":["V","C"],"range":["#7b2b86","#1e8a46"]},"legend":null}}},
{"data":{"name":"err"},"transform":[{"filter":"datum.p==='g'"}],"mark":{"type":"errorbar","ticks":{"size":5},"thickness":1},
"encoding":{"x":{"field":"x","type":"quantitative","scale":{"type":"log","domain":[10,19000],"nice":false},"axis":null},"y":{"field":"lo","type":"quantitative","scale":{"domain":[10000,80000],"nice":false,"zero":false},"axis":null},"y2":{"field":"hi"},"color":{"field":"g","type":"nominal","scale":{"domain":["V","C"],"range":["#7b2b86","#1e8a46"]},"legend":null}}},
{"data":{"name":"stars"},"transform":[{"filter":"datum.p==='g'"}],"mark":{"type":"text","font":"Liberation Serif","fontSize":13,"fontWeight":"bold","baseline":"middle","color":"#222"},
"encoding":{"x":{"field":"x","type":"quantitative","scale":{"type":"log","domain":[10,19000],"nice":false},"axis":{"orient":"top","domain":false,"ticks":false,"labels":false,"title":"1 ˢᵗ Dose","titleFont":"Liberation Serif","titleFontSize":12.5,"titleFontWeight":"normal","titleX":98,"titleY":-25,"titleAlign":"center","titleBaseline":"middle"}},"y":{"field":"y","type":"quantitative","scale":{"domain":[10000,80000],"nice":false,"zero":false},"axis":null},"text":{"field":"t"}}},
{"data":{"name":"stars"},"transform":[{"filter":"datum.p==='g'"}],"mark":{"type":"point","opacity":0},
"encoding":{"x":{"field":"x","type":"quantitative","scale":{"type":"log","domain":[10,19000],"nice":false},"axis":{"orient":"top","domain":false,"ticks":false,"labels":false,"title":"g","titleFont":"Liberation Sans","titleFontSize":12,"titleFontWeight":"normal","titleX":-27,"titleY":-35,"titleAlign":"center","titleBaseline":"middle"}},"y":{"field":"y","type":"quantitative","scale":{"domain":[10000,80000],"nice":false,"zero":false},"axis":null}}}
]},
{"width":179,"height":151,"resolve":{"axis":{"x":"independent","y":"independent"}},"layer":[
{"data":{"name":"lines"},"transform":[{"filter":"datum.p==='h'"},{"fold":["v1","v2","v3","v4","v5","v6"],"as":["k","y"]},{"lookup":"k","from":{"data":{"name":"dil"},"key":"k","fields":["x"]}}],
"mark":{"type":"line","strokeWidth":1.1,"opacity":0.95},
"encoding":{"x":{"field":"x","type":"quantitative","scale":{"type":"log","domain":[10,19000],"nice":false},"axis":{"orient":"bottom","values":[10,100,1000,10000],"format":"d","labelOverlap":false,"tickSize":5,"labelPadding":4,"title":"Log 10 Serum Dilutions","titleFontWeight":"bold","titleFontSize":11,"titlePadding":16}},
"y":{"field":"y","type":"quantitative","scale":{"domain":[10000,80000],"nice":false,"zero":false},"axis":{"orient":"left","values":[20000,40000,60000,80000],"format":"d","labelOverlap":false,"tickSize":5,"labelPadding":3,"title":"Luminescence Activity (RLU)","titleFontSize":10,"titlePadding":8}},
"color":{"field":"g","type":"nominal","scale":{"domain":["V","C"],"range":["#7b2b86","#1e8a46"]},"legend":null},
"detail":{"field":"s","type":"nominal"}}},
{"data":{"name":"lines"},"transform":[{"filter":"datum.p==='h'"},{"fold":["v1","v2","v3","v4","v5","v6"],"as":["k","y"]},{"lookup":"k","from":{"data":{"name":"dil"},"key":"k","fields":["x"]}}],
"mark":{"type":"point","filled":true,"size":12,"opacity":1},
"encoding":{"x":{"field":"x","type":"quantitative","scale":{"type":"log","domain":[10,19000],"nice":false},"axis":{"orient":"bottom","values":[20,30,40,50,60,70,80,90,200,300,400,500,600,700,800,900,2000,3000,4000,5000,6000,7000,8000,9000],"labels":false,"domain":false,"tickSize":3,"title":null}},
"y":{"field":"y","type":"quantitative","scale":{"domain":[10000,80000],"nice":false,"zero":false},"axis":null},
"color":{"field":"g","type":"nominal","scale":{"domain":["V","C"],"range":["#7b2b86","#1e8a46"]},"legend":null}}},
{"data":{"name":"err"},"transform":[{"filter":"datum.p==='h'"}],"mark":{"type":"errorbar","ticks":{"size":5},"thickness":1},
"encoding":{"x":{"field":"x","type":"quantitative","scale":{"type":"log","domain":[10,19000],"nice":false},"axis":null},"y":{"field":"lo","type":"quantitative","scale":{"domain":[10000,80000],"nice":false,"zero":false},"axis":null},"y2":{"field":"hi"},"color":{"field":"g","type":"nominal","scale":{"domain":["V","C"],"range":["#7b2b86","#1e8a46"]},"legend":null}}},
{"data":{"name":"stars"},"transform":[{"filter":"datum.p==='h'"}],"mark":{"type":"text","font":"Liberation Serif","fontSize":13,"fontWeight":"bold","baseline":"middle","color":"#222"},
"encoding":{"x":{"field":"x","type":"quantitative","scale":{"type":"log","domain":[10,19000],"nice":false},"axis":{"orient":"top","domain":false,"ticks":false,"labels":false,"title":"2 ⁿᵈ Dose","titleFont":"Liberation Serif","titleFontSize":12.5,"titleFontWeight":"normal","titleX":92,"titleY":-25,"titleAlign":"center","titleBaseline":"middle"}},"y":{"field":"y","type":"quantitative","scale":{"domain":[10000,80000],"nice":false,"zero":false},"axis":null},"text":{"field":"t"}}},
{"data":{"name":"stars"},"transform":[{"filter":"datum.p==='h'"}],"mark":{"type":"point","opacity":0},
"encoding":{"x":{"field":"x","type":"quantitative","scale":{"type":"log","domain":[10,19000],"nice":false},"axis":{"orient":"top","domain":false,"ticks":false,"labels":false,"title":"h","titleFont":"Liberation Sans","titleFontSize":12,"titleFontWeight":"normal","titleX":-18,"titleY":-40,"titleAlign":"center","titleBaseline":"middle"}},"y":{"field":"y","type":"quantitative","scale":{"domain":[10000,80000],"nice":false,"zero":false},"axis":null}}}
]},
{"width":180,"height":153,"resolve":{"axis":{"x":"independent","y":"independent"}},"layer":[
{"data":{"name":"lines"},"transform":[{"filter":"datum.p==='i'"},{"fold":["v1","v2","v3","v4","v5","v6"],"as":["k","y"]},{"lookup":"k","from":{"data":{"name":"dil"},"key":"k","fields":["x"]}}],
"mark":{"type":"line","strokeWidth":1.1,"opacity":0.95},
"encoding":{"x":{"field":"x","type":"quantitative","scale":{"type":"log","domain":[10,19000],"nice":false},"axis":{"orient":"bottom","values":[10,100,1000,10000],"format":"d","labelOverlap":false,"tickSize":5,"labelPadding":4,"title":"Log 10 Serum Dilutions","titleFontWeight":"bold","titleFontSize":11,"titlePadding":19}},
"y":{"field":"y","type":"quantitative","scale":{"domain":[10000,80000],"nice":false,"zero":false},"axis":{"orient":"left","values":[20000,40000,60000,80000],"format":"d","labelOverlap":false,"tickSize":5,"labelPadding":3,"title":"Luminescence Activity (RLU)","titleFontSize":10,"titlePadding":8}},
"color":{"field":"g","type":"nominal","scale":{"domain":["V","C"],"range":["#7b2b86","#1e8a46"]},"legend":null},
"detail":{"field":"s","type":"nominal"}}},
{"data":{"name":"lines"},"transform":[{"filter":"datum.p==='i'"},{"fold":["v1","v2","v3","v4","v5","v6"],"as":["k","y"]},{"lookup":"k","from":{"data":{"name":"dil"},"key":"k","fields":["x"]}}],
"mark":{"type":"point","filled":true,"size":12,"opacity":1},
"encoding":{"x":{"field":"x","type":"quantitative","scale":{"type":"log","domain":[10,19000],"nice":false},"axis":{"orient":"bottom","values":[20,30,40,50,60,70,80,90,200,300,400,500,600,700,800,900,2000,3000,4000,5000,6000,7000,8000,9000],"labels":false,"domain":false,"tickSize":3,"title":null}},
"y":{"field":"y","type":"quantitative","scale":{"domain":[10000,80000],"nice":false,"zero":false},"axis":null},
"color":{"field":"g","type":"nominal","scale":{"domain":["V","C"],"range":["#7b2b86","#1e8a46"]},"legend":null}}},
{"data":{"name":"err"},"transform":[{"filter":"datum.p==='i'"}],"mark":{"type":"errorbar","ticks":{"size":5},"thickness":1},
"encoding":{"x":{"field":"x","type":"quantitative","scale":{"type":"log","domain":[10,19000],"nice":false},"axis":null},"y":{"field":"lo","type":"quantitative","scale":{"domain":[10000,80000],"nice":false,"zero":false},"axis":null},"y2":{"field":"hi"},"color":{"field":"g","type":"nominal","scale":{"domain":["V","C"],"range":["#7b2b86","#1e8a46"]},"legend":null}}},
{"data":{"name":"stars"},"transform":[{"filter":"datum.p==='i'"}],"mark":{"type":"text","font":"Liberation Serif","fontSize":13,"fontWeight":"bold","baseline":"middle","color":"#222"},
"encoding":{"x":{"field":"x","type":"quantitative","scale":{"type":"log","domain":[10,19000],"nice":false},"axis":{"orient":"top","domain":false,"ticks":false,"labels":false,"title":"3 ʳᵈ Dose","titleFont":"Liberation Serif","titleFontSize":12.5,"titleFontWeight":"normal","titleX":85,"titleY":-25,"titleAlign":"center","titleBaseline":"middle"}},"y":{"field":"y","type":"quantitative","scale":{"domain":[10000,80000],"nice":false,"zero":false},"axis":null},"text":{"field":"t"}}},
{"data":{"name":"stars"},"transform":[{"filter":"datum.p==='i'"}],"mark":{"type":"point","opacity":0},
"encoding":{"x":{"field":"x","type":"quantitative","scale":{"type":"log","domain":[10,19000],"nice":false},"axis":{"orient":"top","domain":false,"ticks":false,"labels":false,"title":"i","titleFont":"Liberation Sans","titleFontSize":12,"titleFontWeight":"normal","titleX":-10,"titleY":-40,"titleAlign":"center","titleBaseline":"middle"}},"y":{"field":"y","type":"quantitative","scale":{"domain":[10000,80000],"nice":false,"zero":false},"axis":null}}}
]}
],"spacing":88,"bounds":"flush","resolve":{"scale":{"color":"independent"}}}
],"spacing":322,"bounds":"flush","resolve":{"scale":{"color":"independent"}}}
],
"config":{
"view":{"stroke":null},
"axis":{"grid":false,"labelFont":"Liberation Serif","labelFontWeight":"bold","labelFontSize":10,"labelColor":"#1a1a1a","titleFont":"Liberation Serif","titleFontWeight":"normal","titleColor":"#1a1a1a","domainColor":"#1a1a1a","domainWidth":1.5,"tickColor":"#1a1a1a","tickWidth":1.2,"labelFlush":false,"labelOverlap":false},
"legend":{"symbolType":"M-1.15,0H1.15M-0.13,0A0.13,0.13 0 1,1 0.13,0A0.13,0.13 0 1,1 -0.13,0","symbolSize":625,"symbolStrokeWidth":1.6,"labelFont":"Liberation Serif","labelFontSize":18,"labelColor":"#222","rowPadding":3,"labelOffset":16,"padding":0,"labelLimit":500}
}
}
